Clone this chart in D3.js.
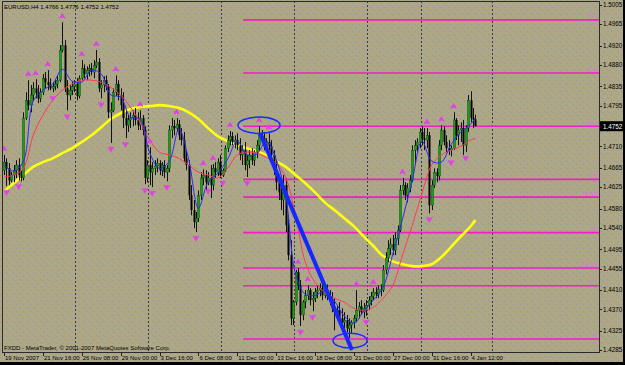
<!DOCTYPE html>
<html><head><meta charset="utf-8">
<script src="https://cdn.jsdelivr.net/npm/d3@7"></script>
<style>html,body{margin:0;padding:0;background:#aca886;overflow:hidden}</style>
</head><body>
<svg id="c" width="625" height="365"></svg>
<script>
const symbolTitle = "EURUSD,H4 1.4766 1.4776 1.4752 1.4752";
const copyright = "FXDD - MetaTrader, \u00A9 2001-2007 MetaQuotes Software Corp.";

const opens = [
1.4660,1.4677,1.4664,1.4639,1.4650,1.4660,1.4671,1.4650,1.4644,1.4769,
1.4806,1.4796,1.4817,1.4831,1.4821,1.4810,1.4823,1.4852,1.4844,1.4838,
1.4831,1.4835,1.4840,1.4848,1.4911,1.4921,1.4831,1.4817,1.4827,1.4835,
1.4840,1.4815,1.4852,1.4873,1.4861,1.4869,1.4873,1.4865,1.4879,1.4886,
1.4831,1.4838,1.4848,1.4835,1.4781,1.4785,1.4823,1.4840,1.4817,1.4796,
1.4769,1.4754,1.4765,1.4769,1.4775,1.4765,1.4754,1.4769,1.4744,1.4644,
1.4671,1.4656,1.4664,1.4669,1.4675,1.4660,1.4671,1.4656,1.4664,1.4744,
1.4752,1.4748,1.4756,1.4733,1.4723,1.4685,1.4671,1.4608,1.4577,1.4552,
1.4560,1.4608,1.4644,1.4650,1.4635,1.4644,1.4629,1.4664,1.4656,1.4677,
1.4650,1.4660,1.4706,1.4723,1.4731,1.4719,1.4723,1.4712,1.4692,1.4702,
1.4671,1.4681,1.4692,1.4681,1.4698,1.4712,1.4733,1.4727,1.4712,1.4719,
1.4710,1.4692,1.4660,1.4635,1.4614,1.4598,1.4629,1.4545,1.4483,1.4351,
1.4385,1.4447,1.4420,1.4358,1.4385,1.4399,1.4410,1.4389,1.4393,1.4406,
1.4410,1.4414,1.4399,1.4410,1.4397,1.4389,1.4372,1.4364,1.4368,1.4351,
1.4343,1.4347,1.4330,1.4337,1.4343,1.4351,1.4368,1.4376,1.4364,1.4372,
1.4378,1.4389,1.4397,1.4406,1.4401,1.4412,1.4410,1.4452,1.4477,1.4497,
1.4506,1.4493,1.4518,1.4535,1.4618,1.4629,1.4608,1.4623,1.4639,1.4702,
1.4712,1.4719,1.4740,1.4727,1.4723,1.4733,1.4587,1.4629,1.4656,1.4648,
1.4712,1.4744,1.4719,1.4706,1.4702,1.4706,1.4765,1.4733,1.4744,1.4748,
1.4712,1.4748,1.4806,1.4769,1.4766];
const highs = [
1.4692,1.4685,1.4675,1.4656,1.4671,1.4681,1.4685,1.4660,1.4781,1.4823,
1.4848,1.4838,1.4844,1.4850,1.4838,1.4831,1.4861,1.4865,1.4869,1.4852,
1.4844,1.4848,1.4858,1.4921,1.4969,1.4932,1.4848,1.4838,1.4844,1.4848,
1.4852,1.4858,1.4890,1.4881,1.4877,1.4881,1.4884,1.4890,1.4911,1.4894,
1.4848,1.4856,1.4858,1.4840,1.4802,1.4831,1.4858,1.4848,1.4831,1.4823,
1.4785,1.4775,1.4781,1.4785,1.4790,1.4781,1.4785,1.4775,1.4752,1.4681,
1.4708,1.4677,1.4681,1.4685,1.4681,1.4677,1.4681,1.4671,1.4754,1.4769,
1.4765,1.4769,1.4765,1.4748,1.4740,1.4702,1.4681,1.4629,1.4598,1.4573,
1.4618,1.4656,1.4662,1.4660,1.4656,1.4671,1.4673,1.4677,1.4685,1.4692,
1.4664,1.4712,1.4733,1.4742,1.4740,1.4733,1.4737,1.4727,1.4712,1.4719,
1.4692,1.4702,1.4706,1.4702,1.4723,1.4752,1.4744,1.4740,1.4727,1.4737,
1.4723,1.4702,1.4681,1.4650,1.4639,1.4650,1.4644,1.4566,1.4514,1.4389,
1.4452,1.4456,1.4431,1.4389,1.4410,1.4420,1.4414,1.4406,1.4414,1.4420,
1.4424,1.4426,1.4420,1.4422,1.4410,1.4406,1.4393,1.4378,1.4385,1.4372,
1.4364,1.4358,1.4351,1.4347,1.4358,1.4410,1.4385,1.4389,1.4383,1.4389,
1.4397,1.4406,1.4414,1.4416,1.4420,1.4422,1.4462,1.4489,1.4514,1.4518,
1.4525,1.4531,1.4545,1.4629,1.4644,1.4635,1.4633,1.4650,1.4712,1.4723,
1.4727,1.4748,1.4752,1.4748,1.4748,1.4740,1.4639,1.4664,1.4664,1.4723,
1.4754,1.4752,1.4733,1.4723,1.4712,1.4781,1.4769,1.4754,1.4760,1.4765,
1.4754,1.4817,1.4825,1.4790,1.4776];
const lows = [
1.4650,1.4627,1.4629,1.4635,1.4635,1.4644,1.4639,1.4637,1.4639,1.4765,
1.4785,1.4781,1.4806,1.4810,1.4800,1.4802,1.4817,1.4831,1.4827,1.4827,
1.4823,1.4827,1.4831,1.4844,1.4906,1.4823,1.4785,1.4806,1.4817,1.4823,
1.4806,1.4810,1.4848,1.4852,1.4848,1.4856,1.4858,1.4852,1.4873,1.4823,
1.4810,1.4823,1.4827,1.4769,1.4717,1.4781,1.4815,1.4806,1.4785,1.4748,
1.4727,1.4740,1.4748,1.4752,1.4754,1.4744,1.4744,1.4733,1.4631,1.4635,
1.4629,1.4625,1.4650,1.4656,1.4650,1.4648,1.4644,1.4637,1.4656,1.4727,
1.4733,1.4740,1.4723,1.4712,1.4677,1.4660,1.4598,1.4566,1.4539,1.4531,
1.4552,1.4598,1.4629,1.4618,1.4629,1.4602,1.4618,1.4644,1.4648,1.4644,
1.4646,1.4656,1.4698,1.4712,1.4712,1.4706,1.4702,1.4681,1.4671,1.4660,
1.4646,1.4664,1.4671,1.4669,1.4685,1.4702,1.4719,1.4702,1.4698,1.4702,
1.4681,1.4650,1.4618,1.4598,1.4577,1.4566,1.4531,1.4472,1.4337,1.4337,
1.4378,1.4410,1.4335,1.4347,1.4372,1.4389,1.4378,1.4366,1.4385,1.4393,
1.4397,1.4389,1.4393,1.4389,1.4378,1.4364,1.4326,1.4351,1.4343,1.4330,
1.4326,1.4322,1.4310,1.4320,1.4330,1.4343,1.4351,1.4358,1.4351,1.4356,
1.4368,1.4378,1.4389,1.4393,1.4393,1.4397,1.4406,1.4443,1.4468,1.4483,
1.4483,1.4483,1.4504,1.4531,1.4608,1.4598,1.4593,1.4614,1.4635,1.4671,
1.4698,1.4706,1.4712,1.4702,1.4706,1.4570,1.4577,1.4623,1.4635,1.4639,
1.4702,1.4712,1.4698,1.4692,1.4689,1.4702,1.4723,1.4712,1.4719,1.4692,
1.4698,1.4740,1.4760,1.4748,1.4752];
const closes = [
1.4677,1.4664,1.4639,1.4650,1.4660,1.4671,1.4650,1.4644,1.4769,1.4806,
1.4796,1.4817,1.4831,1.4821,1.4810,1.4823,1.4852,1.4844,1.4838,1.4831,
1.4835,1.4840,1.4848,1.4911,1.4921,1.4831,1.4817,1.4827,1.4835,1.4840,
1.4815,1.4852,1.4873,1.4861,1.4869,1.4873,1.4865,1.4879,1.4886,1.4831,
1.4838,1.4848,1.4835,1.4781,1.4785,1.4823,1.4840,1.4817,1.4796,1.4769,
1.4754,1.4765,1.4769,1.4775,1.4765,1.4754,1.4769,1.4744,1.4644,1.4671,
1.4656,1.4664,1.4669,1.4675,1.4660,1.4671,1.4656,1.4664,1.4744,1.4752,
1.4748,1.4756,1.4733,1.4723,1.4685,1.4671,1.4608,1.4577,1.4552,1.4560,
1.4608,1.4644,1.4650,1.4635,1.4644,1.4629,1.4664,1.4656,1.4677,1.4650,
1.4660,1.4706,1.4723,1.4731,1.4719,1.4723,1.4712,1.4692,1.4702,1.4671,
1.4681,1.4692,1.4681,1.4698,1.4712,1.4733,1.4727,1.4712,1.4719,1.4710,
1.4692,1.4660,1.4635,1.4614,1.4598,1.4629,1.4545,1.4483,1.4351,1.4385,
1.4447,1.4420,1.4358,1.4385,1.4399,1.4410,1.4389,1.4393,1.4406,1.4410,
1.4414,1.4399,1.4410,1.4397,1.4389,1.4372,1.4364,1.4368,1.4351,1.4343,
1.4347,1.4330,1.4337,1.4343,1.4351,1.4368,1.4376,1.4364,1.4372,1.4378,
1.4389,1.4397,1.4406,1.4401,1.4412,1.4410,1.4452,1.4477,1.4497,1.4506,
1.4493,1.4518,1.4535,1.4618,1.4629,1.4608,1.4623,1.4639,1.4702,1.4712,
1.4719,1.4740,1.4727,1.4723,1.4733,1.4587,1.4629,1.4656,1.4648,1.4712,
1.4744,1.4719,1.4706,1.4702,1.4706,1.4765,1.4733,1.4744,1.4748,1.4712,
1.4748,1.4806,1.4769,1.4766,1.4752];

// indicator lines, read at every 4th bar
const maBars = [0,4,8,12,16,20,24,28,32,36,40,44,48,52,56,60,64,68,72,76,80,84,88,92,96,100,104,108,112,116,120,124,128,132,136,140,144,148,152,156,160,164,168,172,176,180,184,188,192,194];
const blueMA = [1.4671,1.4658,1.4679,1.4804,1.4827,1.4840,1.4871,1.4846,1.4844,1.4869,1.4861,1.4817,1.4813,1.4771,1.4767,1.4696,1.4664,1.4679,1.4746,1.4683,1.4581,1.4635,1.4654,1.4683,1.4721,1.4692,1.4694,1.4721,1.4683,1.4604,1.4443,1.4401,1.4399,1.4408,1.4387,1.4356,1.4341,1.4366,1.4389,1.4416,1.4485,1.4558,1.4639,1.4721,1.4679,1.4677,1.4714,1.4740,1.4756,1.4769];
const redMA = [1.4646,1.4650,1.4664,1.4733,1.4775,1.4806,1.4827,1.4840,1.4848,1.4848,1.4844,1.4833,1.4817,1.4792,1.4760,1.4723,1.4698,1.4692,1.4685,1.4671,1.4656,1.4650,1.4644,1.4664,1.4692,1.4698,1.4696,1.4687,1.4675,1.4644,1.4566,1.4468,1.4426,1.4406,1.4393,1.4385,1.4372,1.4368,1.4374,1.4393,1.4420,1.4483,1.4545,1.4612,1.4671,1.4692,1.4702,1.4710,1.4723,1.4727];
const yellowMA = [1.4616,1.4633,1.4650,1.4667,1.4677,1.4685,1.4696,1.4706,1.4719,1.4733,1.4750,1.4767,1.4779,1.4788,1.4792,1.4794,1.4796,1.4794,1.4790,1.4781,1.4767,1.4748,1.4731,1.4721,1.4712,1.4706,1.4700,1.4692,1.4679,1.4667,1.4650,1.4633,1.4614,1.4593,1.4577,1.4560,1.4543,1.4522,1.4502,1.4481,1.4470,1.4464,1.4460,1.4460,1.4464,1.4479,1.4500,1.4522,1.4543,1.4556];

const upFractalBars = [0,10,13,18,24,32,38,46,56,60,71,82,86,93,105,109,121,125,145,152,164,174,180,185];
const downFractalBars = [1,6,20,26,40,44,50,58,61,67,79,84,90,100,122,127,142,149,175,184,190];

const dateLabels = ["19 Nov 2007","21 Nov 16:00","26 Nov 08:00","29 Nov 00:00","3 Dec 16:00","6 Dec 08:00","11 Dec 00:00","13 Dec 16:00","18 Dec 08:00","21 Dec 00:00","27 Dec 00:00","31 Dec 16:00","4 Jan 12:00"];
const dateLabelBars = [0,16,32,48,64,80,96,112,128,144,160,176,192];
const gridBars = [29.2,59.3,89.3,119.3,149.4,171.6,200.8];
const priceTicks = [1.5005,1.4965,1.4920,1.4880,1.4835,1.4795,1.4710,1.4665,1.4625,1.4580,1.4540,1.4495,1.4455,1.4410,1.4370,1.4325,1.4285];
const lastPrice = 1.4752;

const fibLevels = [0,25,33.33,50,66.66,75,100,125,150];
const fibLabels = ["0","25","33.33","50","66.66","75","100","125","150"];
const fibLow = 1.4308, fibHigh = 1.4752, fibStartBar = 98.4;

const trendBars = [105.4,143.2], trendPrices = [1.4737,1.4285];
const ellipseBars = [[96.3,113.6],[135.4,149.4]];
const ellipsePrices = [[1.4771,1.4737],[1.4320,1.4289]];

// ---------- drawing ----------
const svg = d3.select("#c");
const PL=2, PR=599, PT=1, PB=352;
const x = d3.scaleLinear().domain([0,245]).range([4,599.35]);
const y = d3.scaleLinear().domain([1.42808,1.50133]).range([352,1]);
const font = "'Liberation Sans', Arial, sans-serif";

const defs = svg.append("defs");
const pat = defs.append("pattern").attr("id","bg").attr("width",7).attr("height",7).attr("patternUnits","userSpaceOnUse");
pat.append("rect").attr("width",7).attr("height",7).attr("fill","#aca886");
[[0,0,"#8e97b6"],[4,1,"#c6a274"],[2,3,"#8e97b6"],[6,4,"#c6a274"],[1,5,"#c6a274"],[5,6,"#8e97b6"],[3,6,"#b9a98c"]].forEach(d=>{
  pat.append("rect").attr("x",d[0]).attr("y",d[1]).attr("width",1).attr("height",1).attr("fill",d[2]);
});
defs.append("clipPath").attr("id","plot").append("rect").attr("x",PL).attr("y",PT).attr("width",PR-PL).attr("height",PB-PT);

svg.append("rect").attr("width",625).attr("height",365).attr("fill","url(#bg)");

const g = svg.append("g").attr("clip-path","url(#plot)");

// vertical dashed grid
g.selectAll(".grid").data(gridBars).join("line")
  .attr("x1",d=>Math.round(x(d))+0.5).attr("x2",d=>Math.round(x(d))+0.5)
  .attr("y1",PT).attr("y2",PB).attr("stroke","#3c3c50").attr("stroke-width",1).attr("stroke-dasharray","2,2");

// fib levels
const fibPrice = l => fibLow + l/100*(fibHigh-fibLow);
g.selectAll(".fib").data(fibLevels).join("line")
  .attr("x1",x(fibStartBar)).attr("x2",PR)
  .attr("y1",d=>y(fibPrice(d))).attr("y2",d=>y(fibPrice(d)))
  .attr("stroke","#f01ec8").attr("stroke-width",1.6);
g.selectAll(".fibt").data(fibLevels).join("text")
  .attr("x",PR-2).attr("y",d=>y(fibPrice(d))-1.5)
  .attr("text-anchor","end").attr("font-family",font).attr("font-size",6.2)
  .attr("fill","#e46ee4").text((d,i)=>fibLabels[i]);

// yellow MA
const lineGen = arr => d3.line().x((d,i)=>x(maBars[i])).y(d=>y(d)).curve(d3.curveCatmullRom)(arr);
g.append("path").attr("d",lineGen(yellowMA)).attr("fill","none").attr("stroke","#ffff10").attr("stroke-width",2.6);

// candles
const idx = d3.range(closes.length);
const cg = g.append("g");
cg.selectAll(".wick").data(idx).join("line")
  .attr("x1",i=>Math.round(x(i))+0.5).attr("x2",i=>Math.round(x(i))+0.5)
  .attr("y1",i=>y(highs[i])).attr("y2",i=>y(lows[i]))
  .attr("stroke","#111").attr("stroke-width",1);
cg.selectAll(".body").data(idx).join("rect")
  .attr("x",i=>Math.round(x(i))-0.5).attr("width",2)
  .attr("y",i=>y(Math.max(opens[i],closes[i])))
  .attr("height",i=>Math.max(1,Math.abs(y(opens[i])-y(closes[i]))))
  .attr("fill",i=>closes[i]>=opens[i]?"#13a013":"#000")
  .attr("stroke",i=>closes[i]>=opens[i]?"#0a3a0a":"none").attr("stroke-width",0.4);

// thin MAs
g.append("path").attr("d",lineGen(redMA)).attr("fill","none").attr("stroke","#ff3a5a").attr("stroke-width",1);
g.append("path").attr("d",lineGen(blueMA)).attr("fill","none").attr("stroke","#2a2aff").attr("stroke-width",1);

// fractals
g.selectAll(".up").data(upFractalBars).join("path")
  .attr("transform",i=>`translate(${x(i)},${y(highs[i])-6})`)
  .attr("d","M-2.6,2 L0,-2.2 L2.6,2 M-1.2,1.6 L0,-0.6 L1.2,1.6")
  .attr("fill","none").attr("stroke","#e43ee8").attr("stroke-width",1.2);
g.selectAll(".dn").data(downFractalBars).join("path")
  .attr("transform",i=>`translate(${x(i)},${y(lows[i])+6})`)
  .attr("d","M-2.8,-2.2 L0,2.4 L2.8,-2.2 M-1,-2 L0,0 L1,-2")
  .attr("fill","none").attr("stroke","#e43ee8").attr("stroke-width",1.2);

// trend line
g.append("line")
  .attr("x1",x(trendBars[0])).attr("y1",y(trendPrices[0]))
  .attr("x2",x(trendBars[1])).attr("y2",y(trendPrices[1]))
  .attr("stroke","#1428ff").attr("stroke-width",4);

// ellipses
g.selectAll(".ell").data(ellipseBars).join("ellipse")
  .attr("cx",d=>(x(d[0])+x(d[1]))/2)
  .attr("cy",(d,i)=>(y(ellipsePrices[i][0])+y(ellipsePrices[i][1]))/2)
  .attr("rx",d=>(x(d[1])-x(d[0]))/2)
  .attr("ry",(d,i)=>Math.abs(y(ellipsePrices[i][1])-y(ellipsePrices[i][0]))/2)
  .attr("fill","none").attr("stroke","#1a2cff").attr("stroke-width",1.5);

// frame
svg.append("rect").attr("x",PL+0.5).attr("y",PT+0.5).attr("width",PR-PL).attr("height",PB-PT)
  .attr("fill","none").attr("stroke","#2a2a30").attr("stroke-width",1);

// header texts
svg.append("text").attr("x",4).attr("y",8.5).attr("font-family",font).attr("font-size",6).attr("fill","#000").text(symbolTitle);
svg.append("text").attr("x",4).attr("y",350).attr("font-family",font).attr("font-size",6).attr("fill","#000").text(copyright);

// price axis
const ax = svg.append("g");
ax.selectAll(".pt").data(priceTicks).join("line")
  .attr("x1",PR).attr("x2",PR+3).attr("y1",d=>Math.round(y(d))+0.5).attr("y2",d=>Math.round(y(d))+0.5)
  .attr("stroke","#222");
ax.selectAll(".pl").data(priceTicks).join("text")
  .attr("x",603).attr("y",d=>y(d)+2.3).attr("font-family",font).attr("font-size",6.3).attr("fill","#000")
  .text(d=>d.toFixed(4));
ax.append("rect").attr("x",600).attr("y",y(lastPrice)-5).attr("width",24).attr("height",10).attr("fill","#000");
ax.append("text").attr("x",603).attr("y",y(lastPrice)+2.3).attr("font-family",font).attr("font-size",6.3).attr("fill","#fff").text(lastPrice.toFixed(4));

// time axis
ax.selectAll(".dt").data(dateLabelBars).join("line")
  .attr("x1",d=>Math.round(x(d))+0.5).attr("x2",d=>Math.round(x(d))+0.5).attr("y1",PB).attr("y2",PB+4)
  .attr("stroke","#222");
ax.selectAll(".dl").data(dateLabelBars).join("text")
  .attr("x",d=>x(d)+1).attr("y",360).attr("font-family",font).attr("font-size",6).attr("fill","#000")
  .text((d,i)=>dateLabels[i]);

// window edges
svg.append("rect").attr("x",0).attr("y",362).attr("width",625).attr("height",3).attr("fill","#000");
svg.append("rect").attr("x",623).attr("y",0).attr("width",2).attr("height",365).attr("fill","#000");
</script>
</body></html>
